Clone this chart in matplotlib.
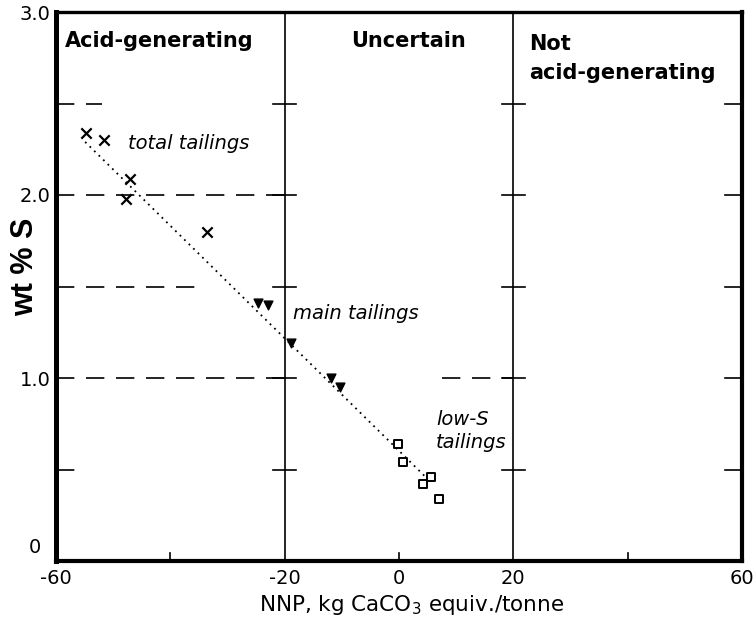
import matplotlib
matplotlib.use("Agg")
import matplotlib.pyplot as plt

# ---- data ----
total_x = [-54.7, -51.6, -47.0, -47.7, -33.5]
total_y = [2.34, 2.30, 2.09, 1.98, 1.80]
main_x = [-24.7, -23.0, -18.9, -11.9, -10.4]
main_y = [1.41, 1.40, 1.19, 1.00, 0.95]
lows_x = [-0.2, 0.7, 4.2, 5.6, 7.0]
lows_y = [0.64, 0.54, 0.42, 0.46, 0.34]
fit_x = [-54.9, 5.6]
fit_y = [2.29, 0.43]

xticks = [-60, -20, 0, 20, 60]
xticklabels = ["-60", "-20", "0", "20", "60"]
yticks = [1, 2, 3]
yticklabels = ["1.0", "2.0", "3.0"]
zero_label = "0"
boundaries = [-20, 20]
levels = [0.5, 1.0, 1.5, 2.0, 2.5]
# dashed guide segments: (level, x_start, x_end)
dashed = [(2.5, -60, -52), (2.0, -60, -20), (1.5, -60, -35),
          (1.0, -60, -18), (1.0, 7.5, 20), (0.5, -60, -55)]
regions = ["Acid-generating", "Uncertain", "Not\nacid-generating"]

FONT = "DejaVu Sans"

fig = plt.figure(figsize=(7.53, 6.24), dpi=100)
ax = fig.add_axes([56/753, 63/624, 686/753, 549/624])
ax.set_xlim(-60, 60)
ax.set_ylim(0, 3.0)

for side, lw in [("left", 3.6), ("bottom", 3.0), ("right", 3.0), ("top", 2.4)]:
    ax.spines[side].set_linewidth(lw)

# region boundaries
for b in boundaries:
    ax.axvline(b, color="black", lw=1.2, zorder=1)

# cross ticks on boundaries and right axis
for lv in levels:
    for b in boundaries:
        ax.plot([b - 2, b + 2], [lv, lv], color="black", lw=1.2, zorder=1)
    ax.plot([57, 60], [lv, lv], color="black", lw=1.2, zorder=1)

# dashed guides
for lv, x0, x1 in dashed:
    ax.plot([x0, x1], [lv, lv], color="black", lw=1.2, dashes=(11, 7), zorder=1)

# bottom inner ticks
for xt in [-40, 0, 40]:
    ax.plot([xt, xt], [0, 0.045], color="black", lw=1.2, zorder=1)

# fit line
ax.plot(fit_x, fit_y, color="black", lw=1.3, linestyle=(0, (1, 2.5)), zorder=2)

# points
ax.scatter(total_x, total_y, marker="x", s=55, color="black", linewidths=1.6, zorder=3)
ax.scatter(main_x, main_y, marker="v", s=40, color="black", zorder=3)
ax.scatter(lows_x, lows_y, marker="s", s=36, facecolors="white", edgecolors="black",
           linewidths=1.4, zorder=3)

# region titles
ax.text(-58.4, 2.84, regions[0], fontsize=15, fontweight="bold", family=FONT, va="center")
ax.text(-8.4, 2.84, regions[1], fontsize=15, fontweight="bold", family=FONT, va="center")
ax.text(22.8, 2.745, regions[2], fontsize=15, fontweight="bold", family=FONT, va="center",
        linespacing=1.55)

# group labels
ax.text(-47.4, 2.28, "total tailings", fontsize=14, style="italic", family=FONT, va="center")
ax.text(-18.6, 1.35, "main tailings", fontsize=14, style="italic", family=FONT, va="center")
ax.text(6.5, 0.71, "low-S\ntailings", fontsize=14, style="italic", family=FONT, va="center",
        linespacing=1.23)

ax.set_xticks(xticks)
ax.set_xticklabels(xticklabels, family=FONT, fontsize=14)
ax.set_yticks(yticks)
ax.set_yticklabels(yticklabels, family=FONT, fontsize=14)
ax.tick_params(length=0, pad=4)
ax.tick_params(axis="x", pad=6)
ax.annotate(zero_label, xy=(0, 0), xycoords="axes fraction", xytext=(-11, 9.5),
            textcoords="offset points", ha="right", va="center", family=FONT, fontsize=14)

ax.set_ylabel("wt % S", fontsize=22, fontweight="bold", family="Liberation Sans")
ax.yaxis.set_label_coords(-0.045, 0.535)
ax.set_xlabel("NNP, kg CaCO$_3$ equiv./tonne", fontsize=15.5, family=FONT)
ax.xaxis.set_label_coords(0.519, -0.08)
ax.xaxis.label.set_va("center")
ax.yaxis.label.set_va("center")

fig.savefig("out.png", dpi=100)
